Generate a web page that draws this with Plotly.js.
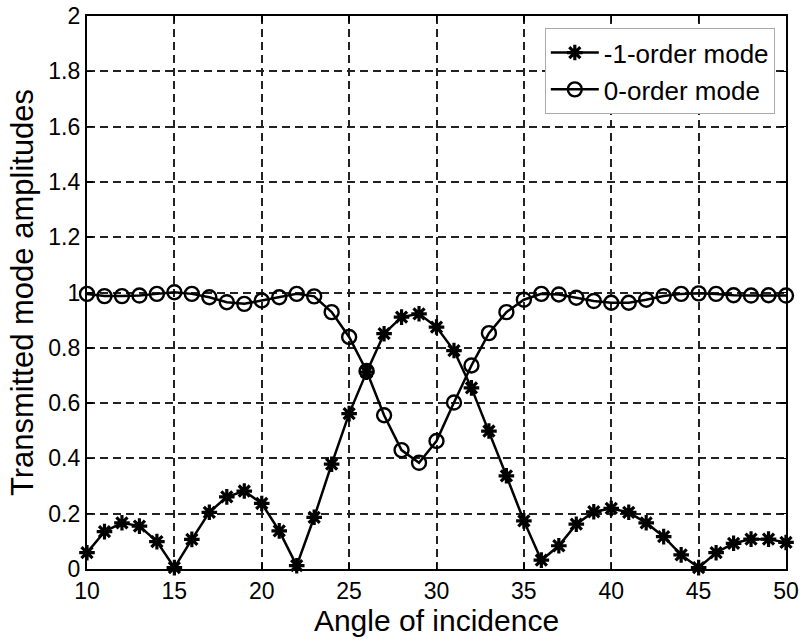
<!DOCTYPE html>
<html>
<head>
<meta charset="utf-8">
<script src="https://cdn.plot.ly/plotly-3.0.1.min.js"></script>
<style>html,body{margin:0;padding:0;background:#fff;}#chart{width:803px;height:643px;}</style>
</head>
<body>
<div id="chart"></div>
<script>
const angles = [10,11,12,13,14,15,16,17,18,19,20,21,22,23,24,25,26,27,28,29,30,31,32,33,34,35,36,37,38,39,40,41,42,43,44,45,46,47,48,49,50];
const minusOneOrder = [0.059,0.135,0.167,0.155,0.099,0.005,0.107,0.205,0.261,0.282,0.237,0.138,0.012,0.187,0.379,0.562,0.712,0.851,0.911,0.923,0.875,0.790,0.655,0.499,0.337,0.174,0.032,0.084,0.162,0.207,0.219,0.205,0.167,0.117,0.051,0.005,0.059,0.093,0.108,0.108,0.096];
const zeroOrder = [0.995,0.987,0.987,0.989,0.995,1.001,0.995,0.983,0.965,0.959,0.971,0.983,0.995,0.986,0.929,0.839,0.716,0.556,0.430,0.384,0.463,0.602,0.736,0.853,0.929,0.974,0.995,0.993,0.981,0.969,0.963,0.963,0.974,0.987,0.995,0.997,0.995,0.990,0.989,0.990,0.989];
const seriesNames = ['-1-order mode','0-order mode'];
const xTitle = 'Angle of incidence';
const yTitle = 'Transmitted mode amplitudes';

const FONT = 'Liberation Sans, Arial, Helvetica, sans-serif';
const traces = [
  {x: angles, y: minusOneOrder, name: seriesNames[0], type: 'scatter', mode: 'lines+markers',
   cliponaxis: false,
   line: {color: '#000', width: 2.5},
   marker: {symbol: 'asterisk-open', size: 13, color: '#000', line: {color: '#000', width: 3.2}}},
  {x: angles, y: zeroOrder, name: seriesNames[1], type: 'scatter', mode: 'lines+markers',
   cliponaxis: false,
   line: {color: '#000', width: 2.5},
   marker: {symbol: 'circle-open', size: 14, color: '#000', line: {color: '#000', width: 2.4}}}
];
const axisCommon = {
  showline: true, linecolor: '#000', linewidth: 2.2, mirror: 'ticks',
  ticks: 'inside', ticklen: 6, tickwidth: 1.5, tickcolor: '#000',
  showgrid: true, gridcolor: '#222', gridwidth: 2, griddash: '8px,5px',
  zeroline: false,
  tickfont: {family: FONT, size: 23, color: '#000'}
};
const layout = {
  width: 803, height: 643,
  margin: {l: 87, r: 17, t: 16, b: 74},
  paper_bgcolor: '#fff', plot_bgcolor: '#fff',
  font: {family: FONT, color: '#000'},
  showlegend: true,
  legend: {x: 0.984, y: 0.978, xanchor: 'right', yanchor: 'top',
    bgcolor: '#fff', bordercolor: '#aaa', borderwidth: 1, itemwidth: 48,
    font: {family: FONT, size: 26, color: '#000'}, tracegroupgap: 0},
  xaxis: Object.assign({}, axisCommon, {
    range: [10, 50], dtick: 5, tick0: 10,
    title: {text: xTitle, font: {family: FONT, size: 30, color: '#000'}, standoff: 3}
  }),
  yaxis: Object.assign({}, axisCommon, {
    range: [0, 2], dtick: 0.2, tick0: 0,
    title: {text: yTitle, font: {family: FONT, size: 31, color: '#000'}, standoff: 5}
  })
};
Plotly.newPlot('chart', traces, layout, {displayModeBar: false, staticPlot: true});
</script>
</body>
</html>
